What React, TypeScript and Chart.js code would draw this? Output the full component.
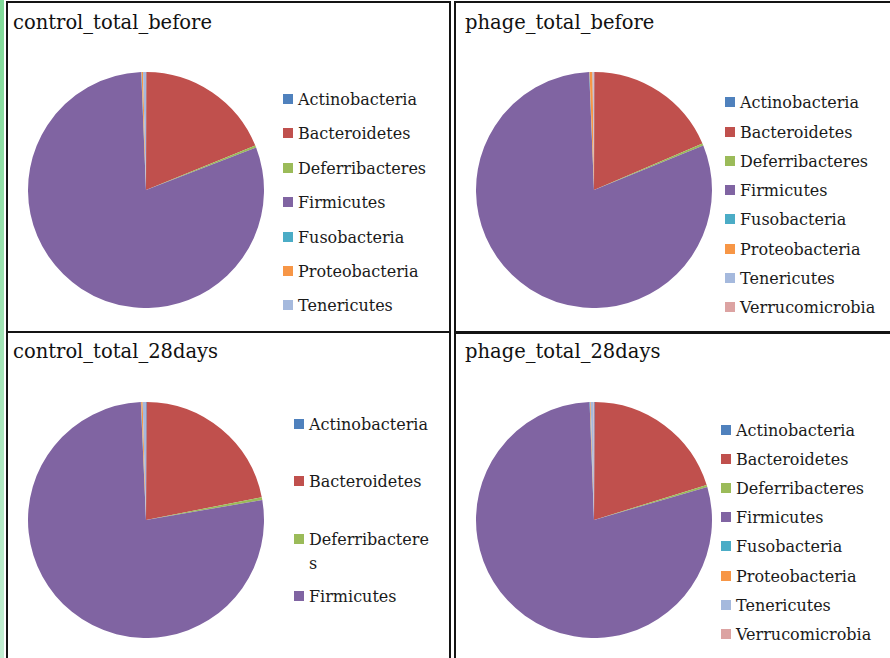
import React, { useEffect, useRef } from "react";
import { Chart, registerables } from "chart.js";

Chart.register(...registerables);

// Phylum names and their fill colours
const phyla = [
  "Actinobacteria",
  "Bacteroidetes",
  "Deferribacteres",
  "Firmicutes",
  "Fusobacteria",
  "Proteobacteria",
  "Tenericutes",
  "Verrucomicrobia",
];
const phylumColors = [
  "#4F81BD",
  "#C0504D",
  "#9BBB59",
  "#8064A2",
  "#4BACC6",
  "#F79646",
  "#A5B9DD",
  "#DCA3A2",
];

// Relative abundance (%) per phylum, in the order of `phyla`
const controlTotalBefore = [0.05, 18.8, 0.3, 80.2, 0.05, 0.2, 0.4];
const phageTotalBefore = [0.05, 18.5, 0.3, 80.5, 0.05, 0.4, 0.15, 0.05];
const controlTotal28days = [0.1, 21.8, 0.4, 77.0, 0.05, 0.2, 0.45];
const phageTotal28days = [0.1, 20.1, 0.3, 78.9, 0.05, 0.1, 0.4, 0.05];

const FONT = "'DejaVu Serif', serif";
const R = 118;

type PanelProps = {
  title: string;
  values: number[];
  legendCount: number;
  // layout
  titleX: number;
  titleY: number;
  cx: number;
  cy: number;
  legX: number;
  legY: number[];
  legWidth?: number;
};

function PiePanel(p: PanelProps) {
  const ref = useRef<HTMLCanvasElement | null>(null);
  useEffect(() => {
    if (!ref.current) return;
    const chart = new Chart(ref.current, {
      type: "pie",
      data: {
        labels: phyla.slice(0, p.values.length),
        datasets: [
          {
            data: p.values,
            backgroundColor: phylumColors.slice(0, p.values.length),
            borderWidth: 0,
          },
        ],
      },
      options: {
        responsive: false,
        animation: false,
        devicePixelRatio: 1,
        layout: { padding: 0 },
        plugins: { legend: { display: false }, tooltip: { enabled: false } },
      },
    });
    return () => chart.destroy();
  }, []);

  return (
    <>
      <div
        style={{
          position: "absolute",
          left: p.titleX,
          top: p.titleY,
          fontFamily: FONT,
          fontSize: 19.5,
          color: "#111",
          whiteSpace: "nowrap",
          lineHeight: 1,
        }}
      >
        {p.title}
      </div>
      <canvas
        ref={ref}
        width={R * 2}
        height={R * 2}
        style={{ position: "absolute", left: p.cx - R, top: p.cy - R }}
      />
      {phyla.slice(0, p.legendCount).map((name, i) => (
        <div
          key={name}
          style={{
            position: "absolute",
            left: p.legX,
            top: p.legY[i] - 11,
            fontFamily: FONT,
            fontSize: 16,
            lineHeight: "24px",
            color: "#1a1a1a",
            display: "flex",
            alignItems: "flex-start",
          }}
        >
          <span
            style={{
              display: "inline-block",
              width: 10,
              height: 10,
              marginTop: 6,
              marginRight: 5,
              background: phylumColors[i],
              flex: "none",
            }}
          />
          <span
            style={{
              width: p.legWidth ?? "auto",
              wordBreak: p.legWidth ? "break-all" : "normal",
              whiteSpace: p.legWidth ? "normal" : "nowrap",
            }}
          >
            {name}
          </span>
        </div>
      ))}
    </>
  );
}

export default function App() {
  return (
    <div
      style={{
        position: "absolute",
        left: 0,
        top: 0,
        width: 890,
        height: 658,
        background: "#fff",
        overflow: "hidden",
      }}
    >
      <div
        style={{
          position: "absolute",
          left: 0,
          top: 0,
          width: 4,
          height: 658,
          background: "linear-gradient(#80da98, #c2eed2)",
        }}
      />
      {/* left column frame */}
      <div
        style={{
          position: "absolute",
          left: 6,
          top: 1,
          width: 441,
          height: 700,
          border: "2px solid #141414",
        }}
      />
      <div style={{ position: "absolute", left: 6, top: 331, width: 445, height: 2, background: "#141414" }} />
      {/* right column frame */}
      <div
        style={{
          position: "absolute",
          left: 454,
          top: 1,
          width: 500,
          height: 700,
          border: "2px solid #141414",
        }}
      />
      <div style={{ position: "absolute", left: 454, top: 331, width: 440, height: 3, background: "#141414" }} />

      <PiePanel
        title="control_total_before"
        values={controlTotalBefore}
        legendCount={7}
        titleX={13}
        titleY={13}
        cx={146}
        cy={190}
        legX={283}
        legY={[99, 133, 168, 202, 237, 271, 305]}
      />
      <PiePanel
        title="phage_total_before"
        values={phageTotalBefore}
        legendCount={8}
        titleX={465}
        titleY={13}
        cx={594}
        cy={190}
        legX={725}
        legY={[102, 132, 161, 190, 219, 249, 278, 307]}
      />
      <PiePanel
        title="control_total_28days"
        values={controlTotal28days}
        legendCount={4}
        titleX={13}
        titleY={342}
        cx={146}
        cy={520}
        legX={294}
        legY={[424, 481, 539, 596]}
        legWidth={124}
      />
      <PiePanel
        title="phage_total_28days"
        values={phageTotal28days}
        legendCount={8}
        titleX={465}
        titleY={342}
        cx={594}
        cy={520}
        legX={721}
        legY={[430, 459, 488, 517, 546, 576, 605, 634]}
      />
    </div>
  );
}
